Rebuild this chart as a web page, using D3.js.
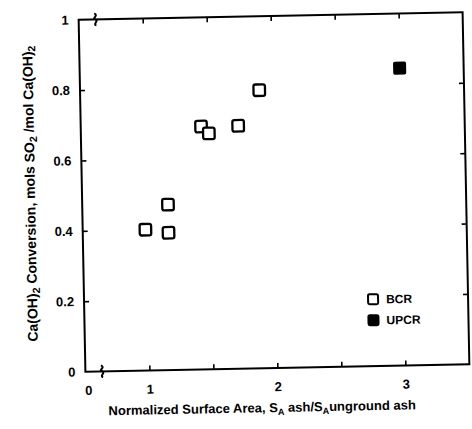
<!DOCTYPE html>
<html>
<head>
<meta charset="utf-8">
<script src="https://cdn.jsdelivr.net/npm/d3@7"></script>
<style>
  html, body { margin: 0; padding: 0; background: #fff; }
  svg { display: block; }
  text { font-family: "Liberation Sans", Arial, Helvetica, sans-serif; font-weight: bold; fill: #000; }
</style>
</head>
<body>
<svg id="chart" width="472" height="429"></svg>
<script>
// Normalized surface area (x) vs. Ca(OH)2 conversion (y)
const bcrX = [0.99, 1.17, 1.17, 1.44, 1.50, 1.73, 1.90];
const bcrY = [0.40, 0.47, 0.39, 0.69, 0.67, 0.69, 0.79];
const upcrX = [3.00];
const upcrY = [0.845];

const xTickValues = [1, 1.5, 2, 2.5, 3];
const xTickLabels = ["1", "", "2", "", "3"];
const yTickValues = [0, 0.2, 0.4, 0.6, 0.8, 1];
const yTickLabels = ["0", "0.2", "0.4", "0.6", "0.8", "1"];
const seriesNames = ["BCR", "UPCR"];

const W = 472, H = 429;
const plot = { left: 82, right: 466, top: 16, bottom: 368 };

const svg = d3.select("#chart");
// whole figure sits slightly tilted
const g = svg.append("g")
  .attr("transform", `rotate(-1.1, ${(plot.left + plot.right) / 2}, ${(plot.top + plot.bottom) / 2})`);

const x = d3.scaleLinear().domain([0.5, 3.5]).range([plot.left, plot.right]);
const y = d3.scaleLinear().domain([0, 1]).range([plot.bottom, plot.top]);

const lineW = 2;
const tickFont = "13px";

// frame
g.append("rect")
  .attr("x", plot.left).attr("y", plot.top)
  .attr("width", plot.right - plot.left).attr("height", plot.bottom - plot.top)
  .attr("fill", "none").attr("stroke", "#000").attr("stroke-width", lineW);

function styleAxis(sel) {
  sel.select(".domain").remove();
  sel.selectAll(".tick line").attr("stroke", "#000").attr("stroke-width", 1.6);
  sel.selectAll(".tick text").style("font-size", tickFont).style("font-weight", "bold");
}

// bottom axis with labels
const xLab = d3.scaleOrdinal().domain(xTickValues).range(xTickLabels);
g.append("g")
  .attr("transform", `translate(0,${plot.bottom})`)
  .call(d3.axisBottom(x).tickValues(xTickValues).tickSize(-5).tickPadding(14).tickFormat(d => xLab(d)))
  .call(styleAxis);

// top axis, ticks only
g.append("g")
  .attr("transform", `translate(0,${plot.top})`)
  .call(d3.axisTop(x).tickValues(xTickValues).tickSize(-5).tickFormat(""))
  .call(styleAxis);

// left axis
const yLab = d3.scaleOrdinal().domain(yTickValues).range(yTickLabels);
g.append("g")
  .attr("transform", `translate(${plot.left},0)`)
  .call(d3.axisLeft(y).tickValues(yTickValues).tickSize(-5).tickPadding(10).tickFormat(d => yLab(d)))
  .call(styleAxis)
  .call(a => a.selectAll(".tick").filter(d => d === 0 || d === 1).select("line").remove());

// right axis, ticks only
g.append("g")
  .attr("transform", `translate(${plot.right},0)`)
  .call(d3.axisRight(y).tickValues(yTickValues.slice(1, -1)).tickSize(-5).tickFormat(""))
  .call(styleAxis);

// origin label of the broken x axis
g.append("text")
  .attr("x", x(0.5) + 3).attr("y", plot.bottom + 14)
  .attr("dy", "0.71em")
  .attr("text-anchor", "middle")
  .style("font-size", tickFont)
  .text("0");

// axis-break squiggles on top and bottom edges
const breakX = x(0.63);
const squiggle = (cy) => `M${breakX - 1},${cy - 6} C${breakX + 4},${cy - 4} ${breakX - 4},${cy - 1} ${breakX},${cy} S${breakX - 3},${cy + 5} ${breakX + 1},${cy + 6}`;
[plot.top, plot.bottom].forEach(cy => {
  g.append("path").attr("d", squiggle(cy))
    .attr("fill", "none").attr("stroke", "#000").attr("stroke-width", 2);
});

// markers
const size = 11.5;
g.append("g").selectAll("rect")
  .data(d3.zip(bcrX, bcrY))
  .join("rect")
  .attr("x", d => x(d[0]) - size / 2).attr("y", d => y(d[1]) - size / 2)
  .attr("width", size).attr("height", size).attr("rx", 2)
  .attr("fill", "#fff").attr("stroke", "#000").attr("stroke-width", 2.3);

g.append("g").selectAll("rect")
  .data(d3.zip(upcrX, upcrY))
  .join("rect")
  .attr("x", d => x(d[0]) - size / 2).attr("y", d => y(d[1]) - size / 2)
  .attr("width", size).attr("height", size).attr("rx", 1)
  .attr("fill", "#000").attr("stroke", "#000").attr("stroke-width", 1.5);

// legend
const legend = g.append("g").attr("transform", `translate(${plot.right - 95},${y(0.19)})`);
seriesNames.forEach((name, i) => {
  const row = legend.append("g").attr("transform", `translate(0,${i * 21})`);
  row.append("rect")
    .attr("x", -5).attr("y", -5).attr("width", 10).attr("height", 10).attr("rx", 1.5)
    .attr("fill", i === 0 ? "#fff" : "#000").attr("stroke", "#000").attr("stroke-width", 2);
  row.append("text").attr("x", 13).attr("dy", "0.36em")
    .style("font-size", "12px").text(name);
});

// axis titles
const yTitle = g.append("text")
  .attr("transform", `translate(35,${(plot.top + plot.bottom) / 2 - 3}) rotate(-90)`)
  .attr("text-anchor", "middle")
  .style("font-size", "14px");
yTitle.append("tspan").text("Ca(OH)");
yTitle.append("tspan").attr("dy", 3).style("font-size", "10.5px").text("2");
yTitle.append("tspan").attr("dy", -3).text(" Conversion, mols SO");
yTitle.append("tspan").attr("dy", 3).style("font-size", "10.5px").text("2");
yTitle.append("tspan").attr("dy", -3).text(" /mol Ca(OH)");
yTitle.append("tspan").attr("dy", 3).style("font-size", "10.5px").text("2");

const xTitle = g.append("text")
  .attr("x", (plot.left + plot.right) / 2 - 16).attr("y", plot.bottom + 44)
  .attr("text-anchor", "middle")
  .style("font-size", "13px");
xTitle.append("tspan").text("Normalized Surface Area, S");
xTitle.append("tspan").attr("dy", 3).style("font-size", "9px").text("A");
xTitle.append("tspan").attr("dy", -3).text(" ash/S");
xTitle.append("tspan").attr("dy", 3).style("font-size", "9px").text("A");
xTitle.append("tspan").attr("dy", -3).text("unground ash");
</script>
</body>
</html>
